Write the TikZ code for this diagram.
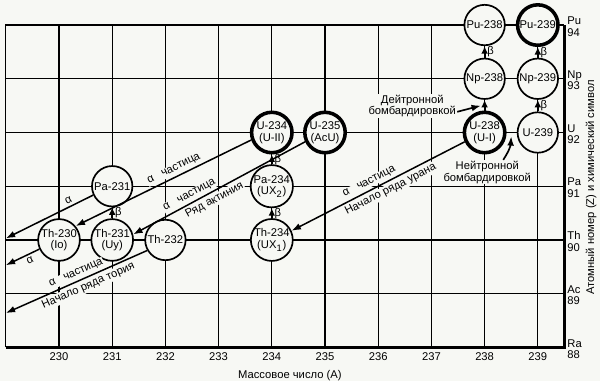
\documentclass[tikz,border=0pt]{standalone}
\usepackage{fontspec}
\setmainfont{Liberation Sans}
\usetikzlibrary{arrows.meta}
\definecolor{paper}{RGB}{247,248,244}

\begin{document}
\begin{tikzpicture}[x=1cm, y=1.01cm,
    font=\fontsize{6}{6.2}\selectfont,
    nuc/.style={draw, circle, fill=paper, minimum size=0.76cm, inner sep=0pt, line width=0.9pt, align=center},
    heavy/.style={nuc, line width=1.9pt},
    gridline/.style={line width=0.7pt},
    alpha/.style={line width=0.8pt, {Latex[length=5pt,width=3.6pt]}-},
    beta/.style={line width=1pt, -{Latex[length=4pt,width=3.6pt]}},
    lead/.style={line width=0.9pt, -{Latex[length=5pt,width=3.6pt]}},
    tag/.style={fill=paper, inner sep=0.5pt}]

\fill[paper] (-0.109,-0.63) rectangle (11.169,6.466);
\useasboundingbox (-0.109,-0.63) rectangle (11.169,6.466);

% grid
\def \nbx{10};
\def \nby{6};
\foreach \x in {1,...,\nbx} {
    \draw[gridline] (\x,0) -- (\x,\nby);
}
\foreach \y in {1,...,5} {
    \draw[gridline] (0,\y) -- (10.5,\y);
}
\draw[gridline] (0,0) -- (0,\nby) -- (10.5,\nby);
\draw[line width=1.4pt] (0,0) -- (10.5,0) -- (10.5,\nby);

% axes
\foreach \m [count=\i] in {230,...,239} {
    \node (a\m) at (\i,-0.18) {\m};
}
\node (axA) at (5.34,-0.52) {Массовое число (A)};
\foreach \s/\z [count=\i from 0] in {Ra/88,Ac/89,Th/90,Pa/91,U/92,Np/93,Pu/94} {
    \node[anchor=west, align=left, inner sep=0pt] (z\z) at (10.55,\i-0.03) {\s\\\z};
}
\node[rotate=90] (axZ) at (11.0,2.98) {Атомный номер (Z) и химический символ};

% nuclides
\node[nuc] (Pu238) at (9,6) {Pu-238};
\node[heavy] (Pu239) at (10,6) {Pu-239};
\node[nuc] (Np238) at (9,5) {Np-238};
\node[nuc] (Np239) at (10,5) {Np-239};
\node[heavy] (U234) at (5,4) {U-234\\(U-II)};
\node[heavy] (U235) at (6,4) {U-235\\(AcU)};
\node[heavy] (U238) at (9,4) {U-238\\(U-I)};
\node[nuc] (U239) at (10,4) {U-239};
\node[nuc] (Pa231) at (2,3) {Pa-231};
\node[nuc] (Pa234) at (5,3) {Pa-234\\(UX\textsubscript{2})};
\node[nuc] (Th230) at (1,2) {Th-230\\(Io)};
\node[nuc] (Th231) at (2,2) {Th-231\\(Uy)};
\node[nuc] (Th232) at (3,2) {Th-232};
\node[nuc] (Th234) at (5,2) {Th-234\\(UX\textsubscript{1})};

% beta decays
\foreach \a/\b in {Np238/Pu238,Np239/Pu239,U239/Np239,Th231/Pa231,Th234/Pa234,Pa234/U234} {
    \draw[beta] (\a) -- (\b) node[pos=0.5, right=0.5pt, inner sep=0.5pt] {β};
}
\draw[beta] (U238) -- (Np238);

% alpha decays
\coordinate (endPa) at (0,2.03);
\coordinate (endTh) at (0,1.53);
\coordinate (endTr) at (0,0.64);
\draw[alpha] (endPa) -- (Pa231.205) node[tag, pos=0.75, above=1pt, sloped] {α};
\draw[alpha] (Th230.40) -- (U234.200) node[tag, pos=0.58, above=1pt, sloped] {α\hspace{5pt}частица};
\draw[alpha] (Th231.15) -- (U235.205)
    node[tag, pos=0.35, above=1pt, sloped] {α\hspace{5pt}частица}
    node[tag, pos=0.45, below=1pt, sloped] {Ряд актиния};
\draw[alpha] (endTh) -- (Th230.205) node[tag, pos=0.64, below=1pt, sloped] {α};
\draw[alpha] (endTr) -- (Th232.210)
    node[tag, pos=0.52, above=1pt, sloped] {α\hspace{5pt}частица}
    node[tag, pos=0.56, below=1pt, sloped] {Начало ряда тория};
\draw[alpha] (Th234.25) -- (U238.205)
    node[tag, pos=0.47, above=1pt, sloped] {α\hspace{5pt}частица}
    node[tag, pos=0.55, below=1pt, sloped] {Начало ряда урана};

% bombardment
\node[tag, align=center] (deut) at (7.64,4.49) {Дейтронной\\бомбардировкой};
\coordinate (dhit) at (8.93,4.5);
\draw[lead] ([yshift=-3pt]deut.east) -- (dhit);
\node[tag, align=center] (neut) at (9.05,3.26) {Нейтронной\\бомбардировкой};
\coordinate (nhit) at (9.5,3.93);
\draw[lead] ([xshift=0.3cm]neut.north) to[bend right=15] (nhit);
\end{tikzpicture}
\end{document}
